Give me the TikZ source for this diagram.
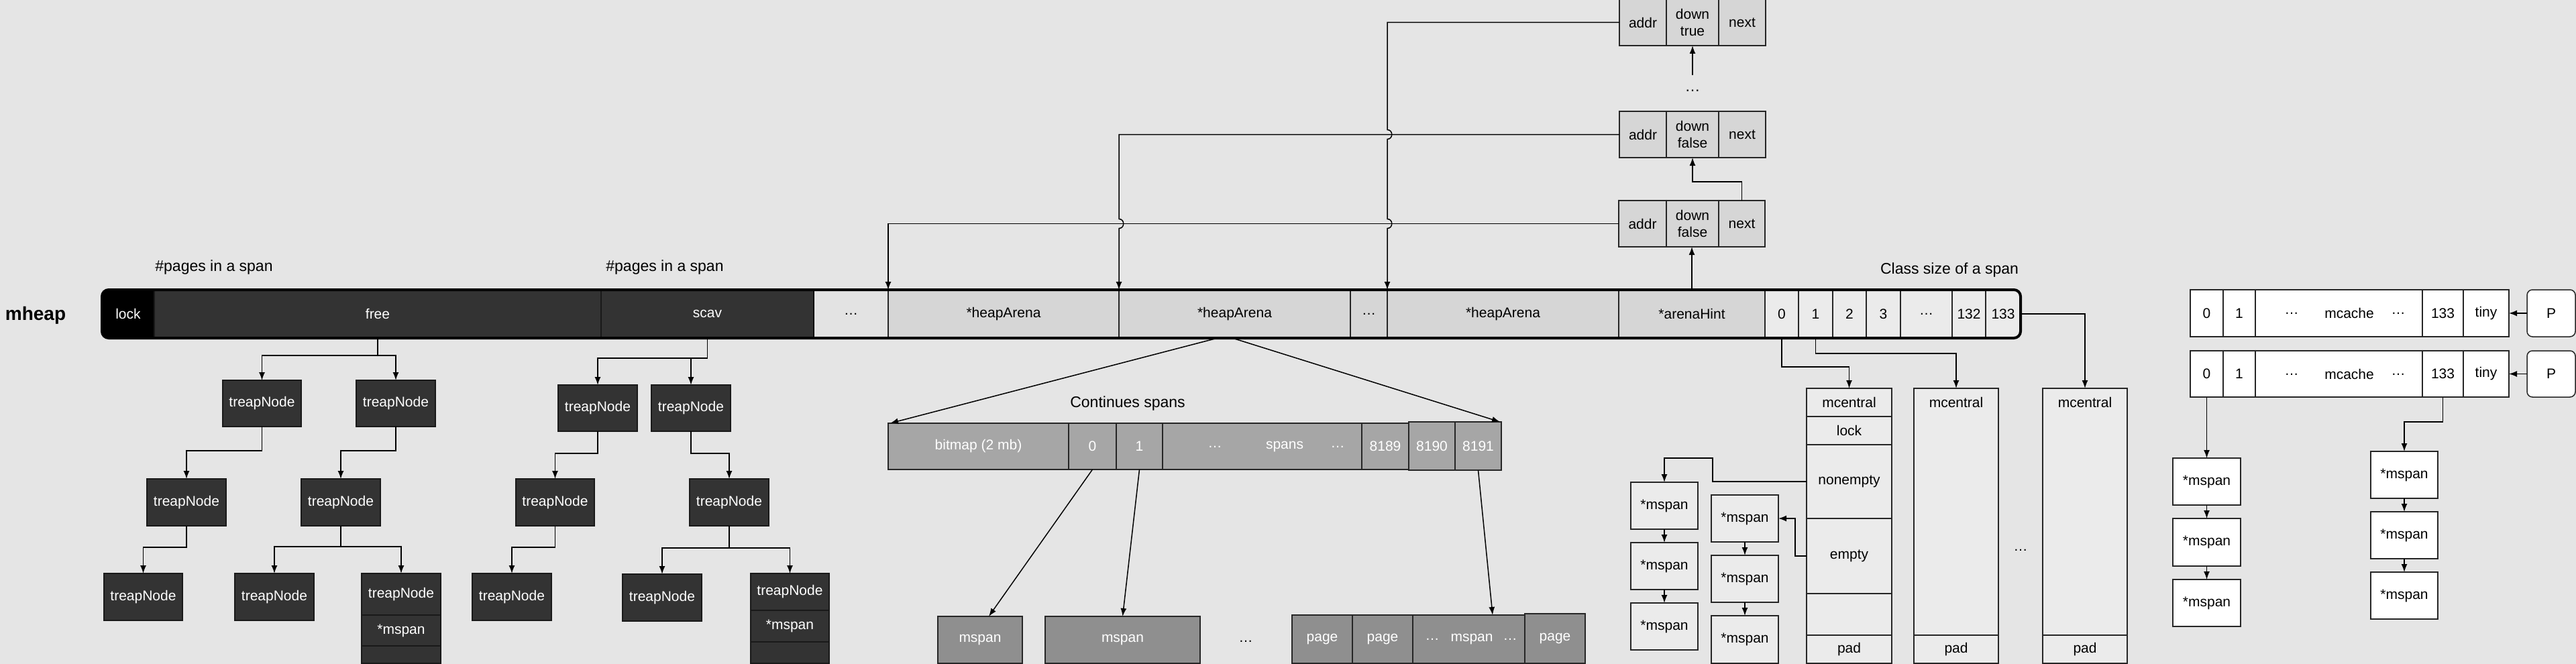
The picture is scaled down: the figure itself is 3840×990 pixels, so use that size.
\documentclass[tikz,border=0pt]{standalone}
\usepackage{fontspec}
\setmainfont{Liberation Sans}
\usetikzlibrary{arrows.meta}
\definecolor{bg}{HTML}{E5E5E5}
\definecolor{dk}{HTML}{333333}
\definecolor{arena}{HTML}{D6D6D6}
\definecolor{cls}{HTML}{EBEBEB}
\definecolor{bmp}{HTML}{A6A6A6}
\definecolor{pgc}{HTML}{8F8F8F}
\definecolor{dotsc}{HTML}{E3E3E3}
\newcommand\cellbox[7]{\node[#6, minimum width={(#3-#2)*0.5pt}, minimum height={(#5-#4)*0.5pt}] (#1) at ({(#2+#3)/2},{(#4+#5)/2}) {#7};}
\begin{document}
\begin{tikzpicture}[x=0.5pt,y=-0.5pt,
  base/.style={rectangle, inner sep=0pt, outer sep=0pt, line width=0.75pt, font=\fontsize{10.5}{12.6}\selectfont, align=center},
  treap/.style={base, fill=dk, draw=black!90, text=white},
  lockc/.style={base, fill=black, draw=black, text=white},
  dotc/.style={base, fill=dotsc, draw=black},
  arenac/.style={base, fill=arena, draw=black!85},
  clsc/.style={base, fill=cls, draw=black!85},
  bmpc/.style={base, fill=bmp, draw=black!85, text=white},
  pagec/.style={base, fill=pgc, draw=black!85, text=white},
  lightc/.style={base, fill=cls, draw=black!85},
  whitec/.style={base, fill=white, draw=black!85},
  pbox/.style={whitec, rounded corners=4pt},
  txt/.style={inner sep=0pt, font=\fontsize{10.5}{12.6}\selectfont},
  wtxt/.style={txt, text=white},
  lbl/.style={inner sep=0pt, font=\fontsize{11.5}{13}\selectfont},
  conn/.style={line width=0.75pt, draw=black},
  arr/.style={conn, -{Latex[length=6pt,width=4.5pt]}}]
\useasboundingbox (0,0) rectangle (3840,990);
\fill[bg] (0,0) rectangle (3840,990);

% labels
\node[inner sep=0pt, font=\bfseries\fontsize{14}{16}\selectfont] (mheap) at (53,470) {mheap};
\node[lbl] (pg1) at (319,399) {\#pages in a span};
\node[lbl] (pg2) at (991,399) {\#pages in a span};
\node[lbl] (cs) at (2906,403) {Class size of a span};
\node[lbl] (cont) at (1681,602) {Continues spans};

% mheap bar
\begin{scope}
\clip[rounded corners=5pt] (152,432) rectangle (3012,504);
\cellbox{lock}{152}{230}{432}{504}{lockc}{lock}
\cellbox{free}{230}{896}{432}{504}{treap}{free}
\cellbox{scav}{896}{1213}{432}{504}{treap}{scav}
\cellbox{dA}{1213}{1324}{432}{504}{dotc}{…}
\cellbox{ha1}{1324}{1668}{432}{504}{arenac}{*heapArena}
\cellbox{ha2}{1668}{2013}{432}{504}{arenac}{*heapArena}
\cellbox{dB}{2013}{2068}{432}{504}{arenac}{…}
\cellbox{ha3}{2068}{2413}{432}{504}{arenac}{*heapArena}
\cellbox{hint}{2413}{2631}{432}{504}{arenac}{*arenaHint}
\cellbox{c0}{2631}{2681}{432}{504}{clsc}{0}
\cellbox{c1}{2681}{2732}{432}{504}{clsc}{1}
\cellbox{c2}{2732}{2782}{432}{504}{clsc}{2}
\cellbox{c3}{2782}{2833}{432}{504}{clsc}{3}
\cellbox{cd}{2833}{2910}{432}{504}{clsc}{…}
\cellbox{c132}{2910}{2960}{432}{504}{clsc}{132}
\cellbox{c133}{2960}{3012}{432}{504}{clsc}{133}
\end{scope}
\draw[line width=2pt, rounded corners=5pt] (152,432) rectangle (3012,504);

% treap tree 1
\cellbox{T1a}{332}{449}{567}{636}{treap}{treapNode}
\cellbox{T1b}{531}{649}{567}{636}{treap}{treapNode}
\cellbox{T2a}{219}{337}{714}{784}{treap}{treapNode}
\cellbox{T2b}{449}{567}{714}{784}{treap}{treapNode}
\cellbox{T3a}{155}{272}{855}{925}{treap}{treapNode}
\cellbox{T3b}{350}{468}{855}{925}{treap}{treapNode}
\cellbox{T3c}{539}{657}{855}{917}{treap}{treapNode}
\cellbox{T3cm}{539}{657}{917}{963}{treap}{*mspan}
\cellbox{T3cx}{539}{657}{963}{989}{treap}{}
% treap tree 2
\cellbox{S1a}{832}{950}{574}{643}{treap}{treapNode}
\cellbox{S1b}{971}{1089}{574}{643}{treap}{treapNode}
\cellbox{S2a}{769}{886}{714}{784}{treap}{treapNode}
\cellbox{S2b}{1028}{1146}{714}{784}{treap}{treapNode}
\cellbox{S3a}{704}{822}{855}{925}{treap}{treapNode}
\cellbox{S3b}{928}{1046}{856}{926}{treap}{treapNode}
\cellbox{S3c}{1119}{1236}{855}{910}{treap}{treapNode}
\cellbox{S3cm}{1119}{1236}{910}{957}{treap}{*mspan}
\cellbox{S3cx}{1119}{1236}{957}{989}{treap}{}

\draw[conn] (free.south) -- ++(0,26) coordinate (fj);
\draw[arr] (fj) -| (T1a.north);
\draw[arr] (fj) -| (T1b.north);
\draw[arr] (T1a.south) -- ++(0,36) -| (T2a.north);
\draw[arr] (T1b.south) -- ++(0,36) -| (T2b.north);
\draw[arr] (T2a.south) -- ++(0,32) -| (T3a.north);
\draw[conn] (T2b.south) -- ++(0,31) coordinate (t2j);
\draw[arr] (t2j) -| (T3b.north);
\draw[arr] (t2j) -| (T3c.north);

\draw[conn] (scav.south) -- ++(0,30) coordinate (sj);
\draw[arr] (sj) -| (S1a.north);
\draw[arr] (sj) -| (S1b.north);
\draw[arr] (S1a.south) -- ++(0,33) -| (S2a.north);
\draw[arr] (S1b.south) -- ++(0,33) -| (S2b.north);
\draw[arr] (S2a.south) -- ++(0,32) -| (S3a.north);
\draw[conn] (S2b.south) -- ++(0,33) coordinate (s2j);
\draw[arr] (s2j) -| (S3b.north);
\draw[arr] (s2j) -| (S3c.north);

% bitmap row
\cellbox{bm}{1324}{1593}{631}{700}{bmpc}{bitmap (2 mb)}
\cellbox{b0}{1593}{1664}{631}{700}{bmpc}{0}
\cellbox{b1}{1664}{1733}{631}{700}{bmpc}{1}
\cellbox{bsp}{1733}{2030}{631}{700}{bmpc}{}
\node[wtxt] (bspd1) at (1811,666) {…};
\node[wtxt] (bspt) at (1915,666) {spans};
\node[wtxt] (bspd2) at (1994,666) {…};
\cellbox{b8189}{2030}{2100}{631}{700}{bmpc}{8189}
\cellbox{b8190}{2100}{2169}{629}{701}{bmpc}{8190}
\cellbox{b8191}{2169}{2238}{629}{701}{bmpc}{8191}

\draw[arr] ([xshift=-12.75pt]ha2.south) -- ([xshift=1.5pt]bm.north west);
\draw[arr] ([xshift=-1.75pt]ha2.south) -- ([xshift=-1pt]b8191.north east);

% spans bottom
\cellbox{ms1}{1398}{1524}{919}{989}{pagec}{mspan}
\cellbox{ms2}{1558}{1789}{919}{989}{pagec}{mspan}
\node[txt] (msd) at (1857,956) {…};
\cellbox{p1}{1926}{2016}{917}{989}{pagec}{page}
\cellbox{p2}{2016}{2106}{917}{989}{pagec}{page}
\cellbox{pm}{2106}{2273}{917}{989}{pagec}{}
\node[wtxt] (pmd1) at (2135,953) {…};
\node[wtxt] (pmt) at (2194,953) {mspan};
\node[wtxt] (pmd2) at (2251,953) {…};
\cellbox{p3}{2273}{2363}{915}{989}{pagec}{page}

\draw[arr] (b0.south) -- ([xshift=6.5pt]ms1.north);
\draw[arr] (b1.south) -- (ms2.north);
\draw[arr] (b8191.south) -- ([xshift=17.75pt]pm.north);

% linked list of arena hints
\cellbox{L1a}{2413}{2484}{299}{368}{arenac}{addr}
\cellbox{L1d}{2484}{2562}{299}{368}{arenac}{down\\false}
\cellbox{L1n}{2562}{2631}{299}{368}{arenac}{next}
\cellbox{L2a}{2414}{2484}{166}{235}{arenac}{addr}
\cellbox{L2d}{2484}{2562}{166}{235}{arenac}{down\\false}
\cellbox{L2n}{2562}{2632}{166}{235}{arenac}{next}
\cellbox{L3a}{2414}{2484}{-1}{68}{arenac}{addr}
\cellbox{L3d}{2484}{2562}{-1}{68}{arenac}{down\\true}
\cellbox{L3n}{2562}{2632}{-1}{68}{arenac}{next}
\node[lbl] (ldots) at (2523,135) {…};
\coordinate (ldb) at (2523,112);
\draw[arr] (ldb) -- (L3d.south);
\draw[arr] (L1n.north) -- ++(0,-28) -| (L2d.south);
\draw[arr] (hint.north) -- (hint.north |- L1d.south);

\draw[arr] (L1a.west) -| (ha1.north west);
\coordinate (x1) at (ha2.north west |- L1a.west);
\draw[arr] (L2a.west) -- (ha2.north west |- L2a.west) -- ([yshift=3.5pt]x1)
  .. controls ([xshift=4.5pt,yshift=3.5pt]x1) and ([xshift=4.5pt,yshift=-3.5pt]x1) .. ([yshift=-3.5pt]x1) -- (ha2.north west);
\coordinate (x2) at (ha3.north west |- L2a.west);
\coordinate (x3) at (ha3.north west |- L1a.west);
\draw[arr] (L3a.west) -- (ha3.north west |- L3a.west) -- ([yshift=3.5pt]x2)
  .. controls ([xshift=4.5pt,yshift=3.5pt]x2) and ([xshift=4.5pt,yshift=-3.5pt]x2) .. ([yshift=-3.5pt]x2) -- ([yshift=3.5pt]x3)
  .. controls ([xshift=4.5pt,yshift=3.5pt]x3) and ([xshift=4.5pt,yshift=-3.5pt]x3) .. ([yshift=-3.5pt]x3) -- (ha3.north west);

% mcentral
\cellbox{mc1}{2693}{2820}{579}{621}{lightc}{mcentral}
\cellbox{mc1l}{2693}{2820}{621}{663}{lightc}{lock}
\cellbox{mc1n}{2693}{2820}{663}{773}{lightc}{nonempty}
\cellbox{mc1e}{2693}{2820}{773}{885}{lightc}{empty}
\cellbox{mc1b}{2693}{2820}{885}{947}{lightc}{}
\cellbox{mc1p}{2693}{2820}{947}{989}{lightc}{pad}
\cellbox{mc2}{2853}{2979}{579}{947}{lightc}{}
\node[txt] (mc2t) at (2916,600) {mcentral};
\cellbox{mc2p}{2853}{2979}{947}{989}{lightc}{pad}
\cellbox{mc3}{3045}{3171}{579}{947}{lightc}{}
\node[txt] (mc3t) at (3108,600) {mcentral};
\cellbox{mc3p}{3045}{3171}{947}{989}{lightc}{pad}
\node[txt] (mcd) at (3012,820) {…};

\draw[arr] (c0.south) -- ++(0,43) -| (mc1.north);
\draw[arr] (c1.south) -- ++(0,23) -| (mc2.north);
\draw[arr] (c133.east) -| (mc3.north);

\cellbox{ms1a}{2431}{2531}{719}{789}{lightc}{*mspan}
\cellbox{ms1b}{2431}{2531}{809}{879}{lightc}{*mspan}
\cellbox{ms1c}{2431}{2531}{899}{969}{lightc}{*mspan}
\cellbox{ms2a}{2551}{2651}{738}{808}{lightc}{*mspan}
\cellbox{ms2b}{2551}{2651}{828}{898}{lightc}{*mspan}
\cellbox{ms2c}{2551}{2651}{918}{989}{lightc}{*mspan}
\draw[arr] (ms1a.south) -- (ms1b.north);
\draw[arr] (ms1b.south) -- (ms1c.north);
\draw[arr] (ms2a.south) -- (ms2b.north);
\draw[arr] (ms2b.south) -- (ms2c.north);
\draw[arr] (mc1n.west) -- ++(-140,0) -- ++(0,-35) -| (ms1a.north);
\draw[arr] (mc1e.west) -- ++(-17,0) |- (ms2a.east);

% mcache rows
\cellbox{m1c0}{3265}{3314}{432}{502}{whitec}{0}
\cellbox{m1c1}{3314}{3362}{432}{502}{whitec}{1}
\cellbox{m1m}{3362}{3611}{432}{502}{whitec}{}
\node[txt] (m1d1) at (3416,467) {…};
\node[txt] (m1t) at (3502,467) {mcache};
\node[txt] (m1d2) at (3575,467) {…};
\cellbox{m1c133}{3611}{3672}{432}{502}{whitec}{133}
\cellbox{m1ty}{3672}{3740}{432}{502}{whitec}{tiny}
\cellbox{P1}{3767}{3839}{432}{502}{pbox}{P}
\draw[arr] (P1.west) -- (m1ty.east);

\cellbox{m2c0}{3265}{3314}{523}{592}{whitec}{0}
\cellbox{m2c1}{3314}{3362}{523}{592}{whitec}{1}
\cellbox{m2m}{3362}{3611}{523}{592}{whitec}{}
\node[txt] (m2d1) at (3416,558) {…};
\node[txt] (m2t) at (3502,558) {mcache};
\node[txt] (m2d2) at (3575,558) {…};
\cellbox{m2c133}{3611}{3672}{523}{592}{whitec}{133}
\cellbox{m2ty}{3672}{3740}{523}{592}{whitec}{tiny}
\cellbox{P2}{3767}{3839}{523}{592}{pbox}{P}
\draw[arr] (P2.west) -- (m2ty.east);

\cellbox{ma1}{3239}{3340}{683}{753}{whitec}{*mspan}
\cellbox{ma2}{3239}{3340}{773}{844}{whitec}{*mspan}
\cellbox{ma3}{3239}{3340}{864}{934}{whitec}{*mspan}
\cellbox{mb1}{3534}{3634}{673}{743}{whitec}{*mspan}
\cellbox{mb2}{3534}{3634}{763}{833}{whitec}{*mspan}
\cellbox{mb3}{3534}{3634}{853}{923}{whitec}{*mspan}
\draw[arr] (m2c0.south) -- (ma1.north);
\draw[arr] (ma1.south) -- (ma2.north);
\draw[arr] (ma2.south) -- (ma3.north);
\draw[arr] (m2c133.south) -- ++(0,37) -| (mb1.north);
\draw[arr] (mb1.south) -- (mb2.north);
\draw[arr] (mb2.south) -- (mb3.north);
\end{tikzpicture}
\end{document}
